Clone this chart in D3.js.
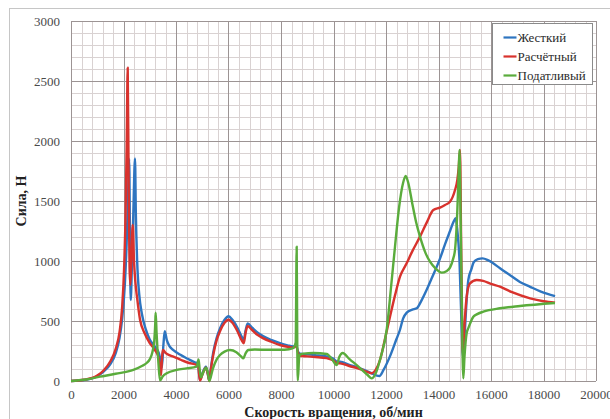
<!DOCTYPE html>
<html>
<head>
<meta charset="utf-8">
<script src="https://cdn.jsdelivr.net/npm/d3@7"></script>
<style>
  body { margin: 0; background: #fff; }
  svg { display: block; }
  svg text { font-family: "Liberation Serif", "Times New Roman", "DejaVu Serif", serif; }
</style>
</head>
<body>
<svg id="chart" width="610" height="419"></svg>
<script>
'use strict';

// series: [rpm, force N]
const jestkiy = [
  [0, 0], [500, 8], [1000, 40], [1250, 80], [1500, 140], [1700, 230], [1850, 360],
  [1950, 520], [2050, 800], [2120, 1150], [2180, 1600], [2215, 1850], [2245, 1250],
  [2274, 675], [2320, 950], [2380, 1450], [2438, 1855], [2470, 1400], [2520, 1000],
  [2600, 720], [2700, 560], [2850, 430], [3000, 345], [3200, 285], [3350, 230],
  [3420, 160], [3460, 110], [3520, 300], [3570, 416], [3650, 340], [3750, 290],
  [3900, 258], [4150, 220], [4450, 185], [4720, 155], [4840, 145], [4880, 60],
  [4914, 8], [5000, 60], [5140, 120], [5210, 60], [5270, 5], [5330, 110], [5420, 240],
  [5550, 360], [5680, 440], [5850, 510], [6000, 540], [6150, 510], [6350, 440],
  [6500, 370], [6580, 340], [6650, 420], [6730, 480], [6900, 445], [7100, 405],
  [7330, 372], [7650, 340], [7960, 315], [8250, 297], [8470, 287], [8580, 305],
  [8640, 250], [8720, 228], [9000, 222], [9300, 216], [9740, 205], [10000, 185],
  [10080, 168], [10150, 160], [10250, 160], [10600, 135], [11010, 106], [11400, 70],
  [11650, 45], [11750, 42], [11900, 90], [12150, 205], [12400, 350], [12530, 425],
  [12650, 520], [12790, 570], [13000, 595], [13170, 606], [13350, 670], [13550, 760],
  [13750, 860], [14057, 1020], [14250, 1140], [14440, 1250], [14580, 1330],
  [14654, 1356], [14720, 1250], [14800, 1000], [14870, 520], [14940, 190],
  [15000, 400], [15080, 700], [15136, 842], [15250, 930], [15340, 990], [15500, 1015],
  [15680, 1022], [15900, 1005], [16343, 940], [16800, 870], [17100, 825],
  [17490, 785], [17900, 745], [18440, 708]
];

const raschetny = [
  [0, 0], [500, 10], [1000, 45], [1250, 90], [1500, 165], [1700, 265], [1850, 410],
  [1950, 620], [2020, 920], [2080, 1400], [2120, 1950], [2160, 2610], [2195, 1700],
  [2230, 950], [2260, 800], [2300, 1000], [2350, 1300], [2400, 1000], [2450, 830],
  [2520, 690], [2630, 510], [2800, 400], [3000, 316], [3200, 258], [3330, 200],
  [3400, 100], [3430, 50], [3470, 200], [3500, 258], [3600, 235], [3750, 215],
  [3900, 203], [4200, 175], [4500, 150], [4787, 133], [4850, 125], [4880, 60],
  [4914, 5], [5000, 50], [5140, 110], [5210, 60], [5270, 0], [5330, 100], [5422, 220],
  [5550, 340], [5676, 415], [5850, 485], [6000, 510], [6150, 485], [6350, 410],
  [6500, 340], [6580, 315], [6650, 400], [6730, 458], [6900, 425], [7100, 385],
  [7330, 355], [7650, 325], [7960, 300], [8250, 285], [8470, 278], [8580, 295],
  [8640, 240], [8720, 210], [9000, 205], [9300, 200], [9740, 190], [10000, 170],
  [10080, 155], [10150, 148], [10250, 147], [10600, 125], [11010, 100], [11300, 75],
  [11454, 64], [11600, 90], [11771, 175], [11950, 340], [12152, 536], [12350, 720],
  [12533, 869], [12787, 981], [13000, 1080], [13295, 1203], [13550, 1320],
  [13803, 1425], [14057, 1445], [14248, 1467], [14438, 1494], [14629, 1592],
  [14718, 1675], [14770, 1780], [14819, 1925], [14860, 1200], [14900, 500],
  [14925, 230], [14960, 350], [15000, 500], [15073, 703], [15200, 814], [15455, 842],
  [15700, 835], [16000, 810], [16343, 786], [16800, 740], [17490, 689], [18000, 665],
  [18440, 653]
];

const podatlivy = [
  [0, 0], [500, 10], [1105, 36], [1700, 60], [2375, 92], [2700, 125], [2883, 150],
  [3000, 180], [3100, 240], [3170, 330], [3210, 480], [3225, 569], [3260, 400],
  [3330, 150], [3390, 5], [3500, 40], [3645, 64], [4025, 92], [4400, 105], [4787, 120],
  [4860, 180], [4900, 100], [4950, 30], [5050, 80], [5150, 110], [5220, 60], [5270, 0],
  [5400, 100], [5550, 180], [5676, 217], [5850, 245], [6057, 258], [6300, 240],
  [6480, 205], [6565, 189], [6650, 230], [6756, 258], [7000, 262], [7500, 260],
  [7962, 260], [8300, 265], [8470, 275], [8560, 320], [8597, 1120], [8620, 300],
  [8640, 5], [8700, 215], [8851, 228], [9232, 233], [9740, 225], [9950, 180],
  [10120, 133], [10220, 200], [10350, 233], [10600, 185], [11010, 108], [11300, 50],
  [11454, 22], [11600, 60], [11800, 200], [12025, 425], [12200, 800], [12343, 1120],
  [12500, 1450], [12650, 1650], [12750, 1708], [12850, 1650], [13000, 1480],
  [13150, 1320], [13295, 1203], [13500, 1070], [13676, 994], [13900, 935],
  [14121, 903], [14300, 915], [14438, 945], [14560, 1020], [14629, 1092],
  [14718, 1425], [14770, 1750], [14800, 1925], [14840, 1400], [14890, 600],
  [14946, 22], [14990, 200], [15073, 400], [15136, 440], [15327, 536], [15455, 555],
  [15708, 578], [16343, 606], [17105, 625], [18438, 650]
];

const seriesNames = ['Жесткий', 'Расчётный', 'Податливый'];
const seriesColors = ['#2e75c0', '#d8322d', '#5aac3c'];
const xTicks = [0, 2000, 4000, 6000, 8000, 10000, 12000, 14000, 16000, 18000, 20000];
const yTicks = [0, 500, 1000, 1500, 2000, 2500, 3000];

const serif = '"Liberation Serif", "Times New Roman", "DejaVu Serif", serif';
const svg = d3.select('#chart');
const margin = { top: 21, right: 14, bottom: 38, left: 71 };
const width = 610, height = 419;

// outer frame
svg.append('rect')
  .attr('x', 9.5).attr('y', 8.5)
  .attr('width', 620).attr('height', 440)
  .attr('fill', '#fff')
  .attr('stroke', '#c6c6c6');

const x = d3.scaleLinear().domain([0, 20000]).range([margin.left, 596]);
const y = d3.scaleLinear().domain([0, 3000]).range([height - margin.bottom, margin.top]);

// minor grid
const grid = svg.append('g');
grid.selectAll('.vminor')
  .data(d3.range(0, 20001, 400))
  .enter().append('line')
  .attr('x1', (d) => Math.round(x(d)) + 0.5).attr('x2', (d) => Math.round(x(d)) + 0.5)
  .attr('y1', y(0)).attr('y2', y(3000))
  .attr('stroke', '#d9d2d2').attr('stroke-width', 1);
grid.selectAll('.hminor')
  .data(d3.range(0, 3001, 100))
  .enter().append('line')
  .attr('x1', x(0)).attr('x2', x(20000))
  .attr('y1', (d) => Math.round(y(d)) + 0.5).attr('y2', (d) => Math.round(y(d)) + 0.5)
  .attr('stroke', '#d9d2d2').attr('stroke-width', 1);

// major grid
grid.selectAll('.vmajor')
  .data(xTicks)
  .enter().append('line')
  .attr('x1', (d) => Math.round(x(d)) + 0.5).attr('x2', (d) => Math.round(x(d)) + 0.5)
  .attr('y1', y(0)).attr('y2', y(3000))
  .attr('stroke', '#9c9494').attr('stroke-width', 1);
grid.selectAll('.hmajor')
  .data(yTicks)
  .enter().append('line')
  .attr('x1', x(0)).attr('x2', x(20000))
  .attr('y1', (d) => Math.round(y(d)) + 0.5).attr('y2', (d) => Math.round(y(d)) + 0.5)
  .attr('stroke', '#9c9494').attr('stroke-width', 1);

// axes
const xAxis = svg.append('g')
  .attr('transform', `translate(0,${y(0)})`)
  .call(d3.axisBottom(x).tickValues(xTicks).tickSize(0).tickPadding(9).tickFormat(d3.format('d')))
  .attr('font-family', serif)
  .attr('font-size', 13);
xAxis.select('.domain').remove();
xAxis.selectAll('.tick text').attr('fill', '#4a4a4a');

const yAxis = svg.append('g')
  .attr('transform', `translate(${x(0)},0)`)
  .call(d3.axisLeft(y).tickValues(yTicks).tickSize(0).tickPadding(11).tickFormat(d3.format('d')))
  .attr('font-family', serif)
  .attr('font-size', 13);
yAxis.select('.domain').remove();
yAxis.selectAll('.tick text').attr('fill', '#4a4a4a');

// axis titles
svg.append('text')
  .attr('x', (x(0) + x(20000)) / 2)
  .attr('y', 417)
  .attr('text-anchor', 'middle')
  .attr('font-family', serif)
  .attr('font-weight', 'bold')
  .attr('font-size', 14)
  .attr('fill', '#222')
  .text('Скорость вращения, об/мин');

svg.append('text')
  .attr('transform', `translate(26,${(y(0) + y(3000)) / 2}) rotate(-90)`)
  .attr('text-anchor', 'middle')
  .attr('font-family', serif)
  .attr('font-weight', 'bold')
  .attr('font-size', 14)
  .attr('fill', '#222')
  .text('Сила, Н');

// lines
const line = d3.line()
  .x((d) => x(d[0]))
  .y((d) => y(d[1]))
  .curve(d3.curveMonotoneX);

svg.append('g')
  .selectAll('path')
  .data([jestkiy, raschetny, podatlivy])
  .enter()
  .append('path')
  .attr('fill', 'none')
  .attr('stroke', (d, i) => seriesColors[i])
  .attr('stroke-width', 2.4)
  .attr('stroke-linejoin', 'round')
  .attr('d', line);

// legend
const legend = svg.append('g').attr('transform', 'translate(492.5,23.5)');
legend.append('rect')
  .attr('width', 100).attr('height', 61)
  .attr('fill', '#fff')
  .attr('stroke', '#8a8a8a');
seriesNames.forEach((name, i) => {
  const cy = 14 + i * 19;
  legend.append('line')
    .attr('x1', 11).attr('x2', 24)
    .attr('y1', cy).attr('y2', cy)
    .attr('stroke', seriesColors[i]).attr('stroke-width', 2.2);
  legend.append('text')
    .attr('x', 25).attr('y', cy + 4.5)
    .attr('font-family', serif)
    .attr('font-size', 13)
    .attr('fill', '#2a2a2a')
    .text(name);
});
</script>
</body>
</html>
